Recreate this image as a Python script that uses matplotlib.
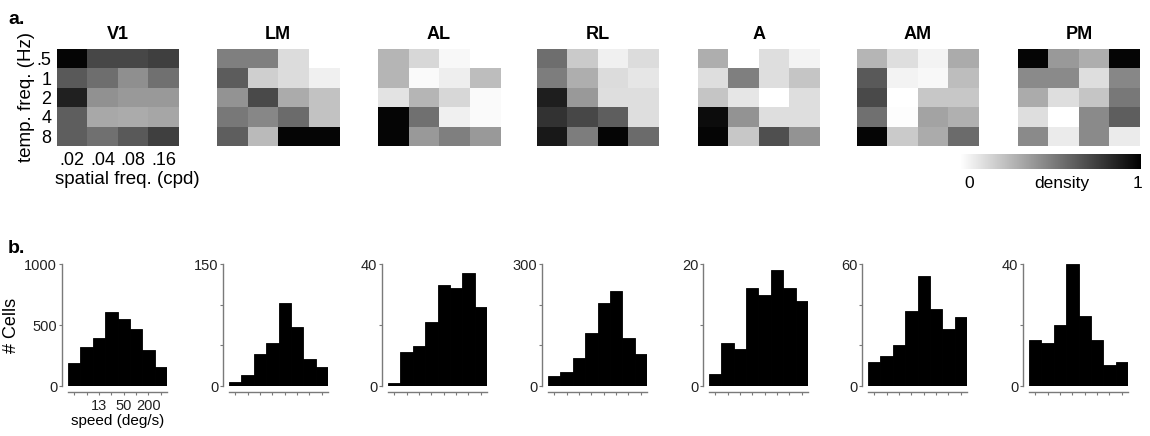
import numpy as np
import matplotlib.pyplot as plt
from matplotlib.colors import LinearSegmentedColormap

plt.rcParams['font.family'] = ['Liberation Sans', 'DejaVu Sans']

areas = ['V1', 'LM', 'AL', 'RL', 'A', 'AM', 'PM']
temp_freq = ['.5', '1', '2', '4', '8']
spatial_freq = ['.02', '.04', '.08', '.16']

# preference density, rows = temporal freq, cols = spatial freq
dens_v1 = [[0.98, 0.72, 0.72, 0.75],
           [0.65, 0.57, 0.44, 0.56],
           [0.87, 0.43, 0.40, 0.40],
           [0.63, 0.34, 0.33, 0.35],
           [0.63, 0.56, 0.65, 0.75]]
dens_lm = [[0.50, 0.50, 0.14, 0.00],
           [0.64, 0.19, 0.14, 0.06],
           [0.42, 0.71, 0.33, 0.24],
           [0.53, 0.47, 0.58, 0.24],
           [0.63, 0.27, 0.98, 0.98]]
dens_al = [[0.29, 0.16, 0.03, 0.00],
           [0.29, 0.02, 0.07, 0.26],
           [0.11, 0.29, 0.16, 0.02],
           [0.98, 0.56, 0.06, 0.02],
           [0.98, 0.40, 0.50, 0.40]]
dens_rl = [[0.57, 0.21, 0.06, 0.14],
           [0.51, 0.32, 0.14, 0.10],
           [0.88, 0.40, 0.13, 0.13],
           [0.80, 0.72, 0.63, 0.13],
           [0.90, 0.51, 0.98, 0.58]]
dens_a = [[0.32, 0.00, 0.13, 0.05],
          [0.13, 0.50, 0.13, 0.23],
          [0.23, 0.10, 0.00, 0.13],
          [0.95, 0.42, 0.13, 0.13],
          [0.98, 0.22, 0.69, 0.42]]
dens_am = [[0.29, 0.13, 0.05, 0.33],
           [0.65, 0.05, 0.03, 0.26],
           [0.71, 0.00, 0.22, 0.22],
           [0.56, 0.01, 0.36, 0.31],
           [0.98, 0.21, 0.33, 0.58]]
dens_pm = [[0.98, 0.40, 0.32, 0.98],
           [0.46, 0.46, 0.13, 0.47],
           [0.33, 0.13, 0.23, 0.53],
           [0.13, 0.00, 0.46, 0.63],
           [0.46, 0.08, 0.46, 0.08]]

# speed tuning histograms (# cells per speed bin)
speed_labels = ['', '', '13', '', '50', '', '200', '']
counts_v1 = [185, 320, 395, 610, 550, 470, 295, 155]
counts_lm = [5, 14, 39, 53, 102, 72, 33, 23]
counts_al = [1, 11, 13, 21, 33, 32, 37, 26]
counts_rl = [24, 35, 69, 130, 204, 234, 119, 79]
counts_a = [2, 7, 6, 16, 15, 19, 16, 14]
counts_am = [12, 15, 20, 37, 54, 38, 28, 34]
counts_pm = [15, 14, 20, 40, 23, 15, 7, 8]
yticks_all = [[0, 500, 1000], [0, 50, 100, 150], [0, 20, 40], [0, 100, 200, 300],
              [0, 10, 20], [0, 20, 40, 60], [0, 20, 40]]

dens_all = [dens_v1, dens_lm, dens_al, dens_rl, dens_a, dens_am, dens_pm]
counts_all = [counts_v1, counts_lm, counts_al, counts_rl, counts_a, counts_am, counts_pm]

W, H = 1150, 436
fig = plt.figure(figsize=(W / 100, H / 100), dpi=100)


def px_axes(x, y, w, h):
    return fig.add_axes([x / W, 1 - (y + h) / H, w / W, h / H])


cmap = LinearSegmentedColormap.from_list('wk', ['white', 'black'])
heat_left = [57, 217, 378, 537, 698, 857, 1018]
hist_left = [68, 229, 388, 548, 709, 868, 1029]
spine_col = '#7a7a7a'

# a. heatmaps
for i, name in enumerate(areas):
    ax = px_axes(heat_left[i], 49, 122, 97)
    im = ax.imshow(np.array(dens_all[i]), cmap=cmap, vmin=0, vmax=1,
                   aspect='auto', interpolation='nearest')
    ax.set_title(name, fontweight='bold', fontsize=13, pad=7)
    for s in ax.spines.values():
        s.set_visible(False)
    if i == 0:
        ax.set_yticks(range(len(temp_freq)))
        ax.set_yticklabels(temp_freq)
        ax.set_xticks(range(len(spatial_freq)))
        ax.set_xticklabels(spatial_freq)
        ax.tick_params(length=0, labelsize=13, pad=4)
        ax.set_ylabel('temp. freq. (Hz)', fontsize=13.5, labelpad=1)
        ax.set_xlabel('spatial freq. (cpd)', fontsize=13.5)
        ax.xaxis.set_label_coords(0.58, -0.26)
    else:
        ax.set_xticks([])
        ax.set_yticks([])

# colorbar
cax = px_axes(960, 154, 181, 15)
cb = fig.colorbar(im, cax=cax, orientation='horizontal', ticks=[])
cb.outline.set_visible(False)
cax.text(0.05, -0.95, '0', transform=cax.transAxes, ha='center', va='center', fontsize=12.5)
cax.text(0.98, -0.95, '1', transform=cax.transAxes, ha='center', va='center', fontsize=12.5)
cax.text(0.56, -0.95, 'density', transform=cax.transAxes, ha='center', va='center', fontsize=12.5)

# b. speed histograms
for i, name in enumerate(areas):
    ax = px_axes(hist_left[i], 264, 99, 122)
    counts = counts_all[i]
    ax.bar(range(len(counts)), counts, width=1.0, color='black', edgecolor='black', lw=0.6)
    ymax = yticks_all[i][-1]
    ax.set_xlim(-0.5, len(counts) - 0.5)
    ax.set_ylim(0, ymax)
    ax.spines['top'].set_visible(False)
    ax.spines['right'].set_visible(False)
    for s in ['left', 'bottom']:
        ax.spines[s].set_position(('outward', 4.3))
        ax.spines[s].set_color(spine_col)
        ax.spines[s].set_linewidth(1.0)
    ax.set_yticks(yticks_all[i])
    if i == 0:
        ax.set_yticklabels([str(v) for v in yticks_all[i]])
    else:
        ax.set_yticklabels([str(v) if v in (0, ymax) else '' for v in yticks_all[i]])
    ax.set_xticks(range(len(counts)))
    if i == 0:
        ax.set_xticklabels(speed_labels)
        ax.set_xlabel('speed (deg/s)', fontsize=11, labelpad=1)
        ax.set_ylabel('# Cells', fontsize=13, labelpad=3)
    else:
        ax.set_xticklabels([])
    ax.tick_params(direction='out', length=2, width=0.8, color=spine_col,
                   labelsize=10.5, pad=1.5, labelcolor='#222222')
    ax.tick_params(axis='x', pad=3)

fig.text(8 / W, 1 - 20 / H, 'a.', fontweight='bold', fontsize=14, va='center')
fig.text(8 / W, 1 - 248 / H, 'b.', fontweight='bold', fontsize=14, va='center')

fig.savefig('out.png', dpi=100)
